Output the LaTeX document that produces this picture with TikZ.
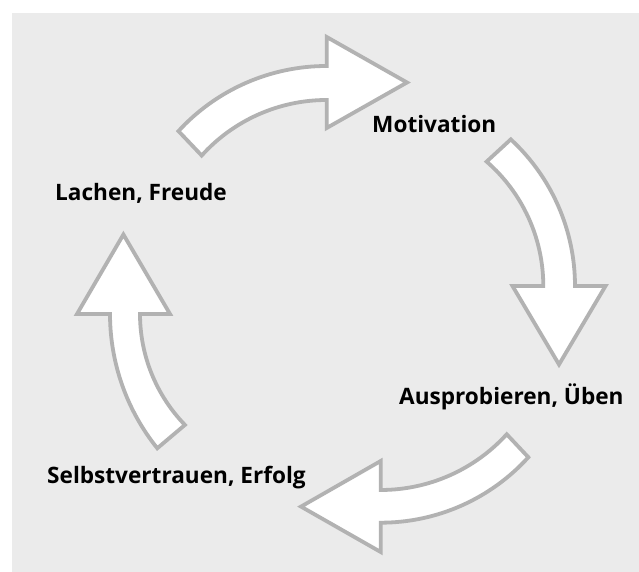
\documentclass[tikz,border=0pt]{standalone}
\usepackage{fontspec}
\setmainfont{Open Sans}
\definecolor{bggray}{RGB}{235,235,235}
\definecolor{edgegray}{RGB}{178,178,178}
\begin{document}
\begin{tikzpicture}[x=1pt,y=1pt,
  cyclearrow/.style={fill=white,draw=edgegray,line width=3.8pt,line join=miter},
  lbl/.style={anchor=base west,inner sep=0pt,font=\fontsize{22.6}{26}\selectfont\bfseries,text=black}]
\useasboundingbox (0,0) rectangle (639,572);
\fill[bggray] (12,0) rectangle (639,559);
% top arrow
\draw[cyclearrow] (326.7,304.6) ++(137.4:201.4) arc[start angle=137.4,end angle=90,radius=201.4]
  -- (326.7,535) -- (407,489.5) -- (326.7,444) -- (326.7,472)
  arc[start angle=90,end angle=137.9,radius=168.5] -- cycle;
% right arrow
\draw[cyclearrow] (375.5,286) ++(47.3:199.5) arc[start angle=47.3,end angle=0,radius=199.5]
  -- (605.5,286) -- (559,207.5) -- (512.5,286) -- (543.3,286)
  arc[start angle=0,end angle=49,radius=164.8] -- cycle;
% bottom arrow
\draw[cyclearrow] (380.7,248.6) ++(-42.2:199.3) arc[start angle=-42.2,end angle=-90,radius=199.3]
  -- (380.7,20) -- (301,65.4) -- (380.7,111) -- (380.7,82)
  arc[start angle=-90,end angle=-42.3,radius=170.4] -- cycle;
% left arrow
\draw[cyclearrow] (324.3,258) ++(218.8:214.3) arc[start angle=218.8,end angle=180,radius=214.3]
  -- (77,258) -- (123.4,337.5) -- (170,258) -- (140,258)
  arc[start angle=180,end angle=224.1,radius=159.4] -- cycle;
\node[lbl] (motivation) at (372,439.3) {Motivation};
\node[lbl] (lachen) at (55,371.5) {Lachen, Freude};
\node[lbl] (auspro) at (399,167) {Ausprobieren, Üben};
\node[lbl] (selbst) at (47,88) {Selbstvertrauen, Erfolg};
\end{tikzpicture}
\end{document}
